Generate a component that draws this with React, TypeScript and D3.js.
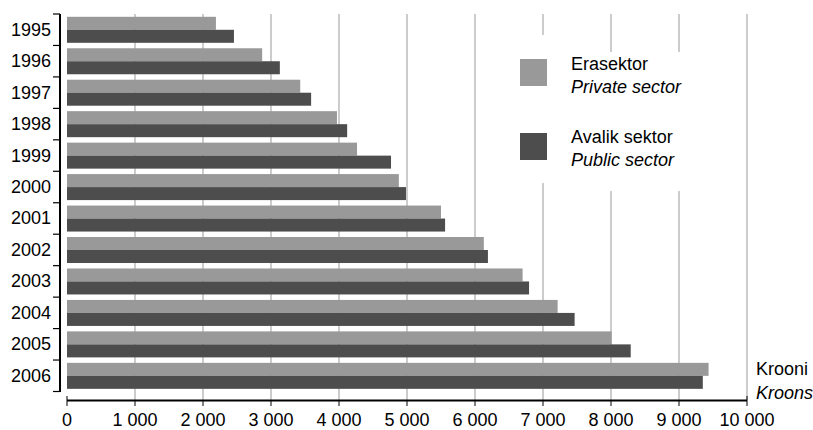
import React from "react";
import * as d3 from "d3";

const years = ["1995","1996","1997","1998","1999","2000","2001","2002","2003","2004","2005","2006"];
const privateSector = [2190, 2870, 3430, 3970, 4265, 4880, 5500, 6130, 6700, 7215, 8010, 9435];
const publicSector = [2455, 3130, 3590, 4120, 4765, 4985, 5560, 6190, 6795, 7465, 8290, 9350];
const xTicks = [0, 1000, 2000, 3000, 4000, 5000, 6000, 7000, 8000, 9000, 10000];
const legendLabels = [
  { et: "Erasektor", en: "Private sector" },
  { et: "Avalik sektor", en: "Public sector" },
];

const W = 813, H = 430;
const FONT = "'Liberation Sans', Arial, sans-serif";
const LIGHT = "#999999";
const DARK = "#4d4d4d";

export default function App() {
  const x = d3.scaleLinear().domain([0, 10000]).range([67, 747]);
  const y = d3.scaleBand().domain(years).range([14, 391.5]).paddingInner(0).paddingOuter(0);
  const bw = y.bandwidth();
  const barH = 13;
  const fmt = (v: number) => d3.format(",")(v).replace(/,/g, " ");

  return (
    <svg width={W} height={H} style={{ position: "absolute", left: 0, top: 0, background: "#fff" }}>
      {/* gridlines */}
      {xTicks.slice(1).map((t) => (
        <line key={"g" + t} x1={x(t)} x2={x(t)} y1={14} y2={400} stroke="#999" strokeWidth={1} />
      ))}
      {/* legend background boxes */}
      <rect x={510} y={35} width={48} height={148} fill="#fff" />
      <rect x={558} y={52} width={140} height={139} fill="#fff" />
      {/* bars */}
      {years.map((yr, i) => (
        <g key={yr}>
          <rect x={x(0)} y={(y(yr) as number) + 2.8} width={x(privateSector[i]) - x(0)} height={barH} fill={LIGHT} />
          <rect x={x(0)} y={(y(yr) as number) + 2.8 + barH} width={x(publicSector[i]) - x(0)} height={barH} fill={DARK} />
        </g>
      ))}
      {/* left axis */}
      <line x1={60} x2={60} y1={14} y2={392} stroke="#000" strokeWidth={2} />
      {years.map((yr) => (
        <line key={"t" + yr} x1={53} x2={60} y1={y(yr) as number} y2={y(yr) as number} stroke="#000" strokeWidth={1.2} />
      ))}
      <line x1={53} x2={60} y1={391.5} y2={391.5} stroke="#000" strokeWidth={1.2} />
      {years.map((yr) => (
        <text key={"l" + yr} x={51} y={(y(yr) as number) + bw / 2} textAnchor="end" dominantBaseline="central"
          fontFamily={FONT} fontSize={18} fill="#000">{yr}</text>
      ))}
      {/* bottom axis */}
      <line x1={x(0)} x2={x(10000)} y1={400.5} y2={400.5} stroke="#000" strokeWidth={2} />
      {xTicks.map((t) => (
        <line key={"xt" + t} x1={x(t)} x2={x(t)} y1={t === 0 || t === 10000 ? 396 : 400} y2={406} stroke="#000" strokeWidth={1} />
      ))}
      {xTicks.map((t) => (
        <text key={"xl" + t} x={x(t)} y={426} textAnchor="middle" fontFamily={FONT} fontSize={18} fill="#000">{fmt(t)}</text>
      ))}
      {/* legend */}
      {legendLabels.map((l, i) => (
        <g key={l.et}>
          <rect x={520} y={59 + i * 74} width={27} height={27} fill={i === 0 ? LIGHT : DARK} />
          <text x={571} y={70 + i * 73} fontFamily={FONT} fontSize={18} fill="#000">{l.et}</text>
          <text x={571} y={93 + i * 73} fontFamily={FONT} fontSize={18} fontStyle="italic" fill="#000">{l.en}</text>
        </g>
      ))}
      {/* unit */}
      <text x={756} y={375} fontFamily={FONT} fontSize={18} fill="#000">Krooni</text>
      <text x={756} y={399} fontFamily={FONT} fontSize={18} fontStyle="italic" fill="#000">Kroons</text>
    </svg>
  );
}
